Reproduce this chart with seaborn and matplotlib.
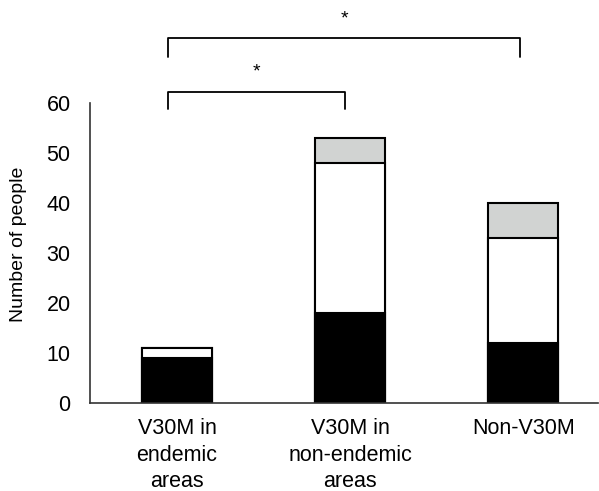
import matplotlib
matplotlib.use("Agg")
import matplotlib.pyplot as plt
import seaborn as sns
import numpy as np
import pandas as pd

categories = ["V30M in\nendemic\nareas", "V30M in\nnon-endemic\nareas", "Non-V30M"]
black_vals = [9, 18, 12]
white_vals = [2, 30, 21]
gray_vals = [0, 5, 7]
y_ticks = [0, 10, 20, 30, 40, 50, 60]

sns.set_theme(style="white")
plt.rcParams['font.family'] = ['Liberation Sans', 'DejaVu Sans']

fig = plt.figure(figsize=(5.99, 4.91), dpi=100)
ax = fig.add_axes([0.1503, 0.1792, 0.8477, 0.6110])

b = np.array(black_vals)
w = b + np.array(white_vals)
g = w + np.array(gray_vals)

df = pd.DataFrame({"cat": categories, "black": b, "white": w, "gray": g})
width = 0.405
sns.barplot(data=df, x="cat", y="gray", color="#d1d3d2", edgecolor="black", linewidth=1.5, width=width, saturation=1, ax=ax)
sns.barplot(data=df, x="cat", y="white", color="white", edgecolor="black", linewidth=1.5, width=width, saturation=1, ax=ax)
sns.barplot(data=df, x="cat", y="black", color="black", edgecolor="black", linewidth=1.5, width=width, saturation=1, ax=ax)

ax.set_ylim(0, 60)
ax.set_xlim(-0.503, 2.43)
ax.set_yticks(y_ticks)
ax.tick_params(axis='both', length=0, labelsize=15.5, colors='black')
ax.tick_params(axis='y', pad=14)
ax.tick_params(axis='x', pad=11)
for lab in ax.get_xticklabels():
    lab.set_linespacing(1.35)
ax.set_xlabel("")
ax.set_ylabel("Number of people", fontsize=14, color='black')
ax.yaxis.set_label_coords(-0.124, 0.53)
for s in ["top", "right"]:
    ax.spines[s].set_visible(False)
for s in ["left", "bottom"]:
    ax.spines[s].set_color("#333333")
    ax.spines[s].set_linewidth(1.2)

# significance brackets
def bracket(x1, x2, ytop, ylow, ystar):
    ax.plot([x1, x1, x2, x2], [ylow, ytop, ytop, ylow], color="black", lw=1.3, clip_on=False)
    ax.text((x1 + x2) / 2, ystar, "*", ha="center", va="center", fontsize=14, color="black", clip_on=False)

bracket(-0.05, 0.97, 62.2, 58.8, 66.2)
bracket(-0.05, 1.98, 73.0, 69.2, 76.8)

fig.savefig("out.png", dpi=100)
